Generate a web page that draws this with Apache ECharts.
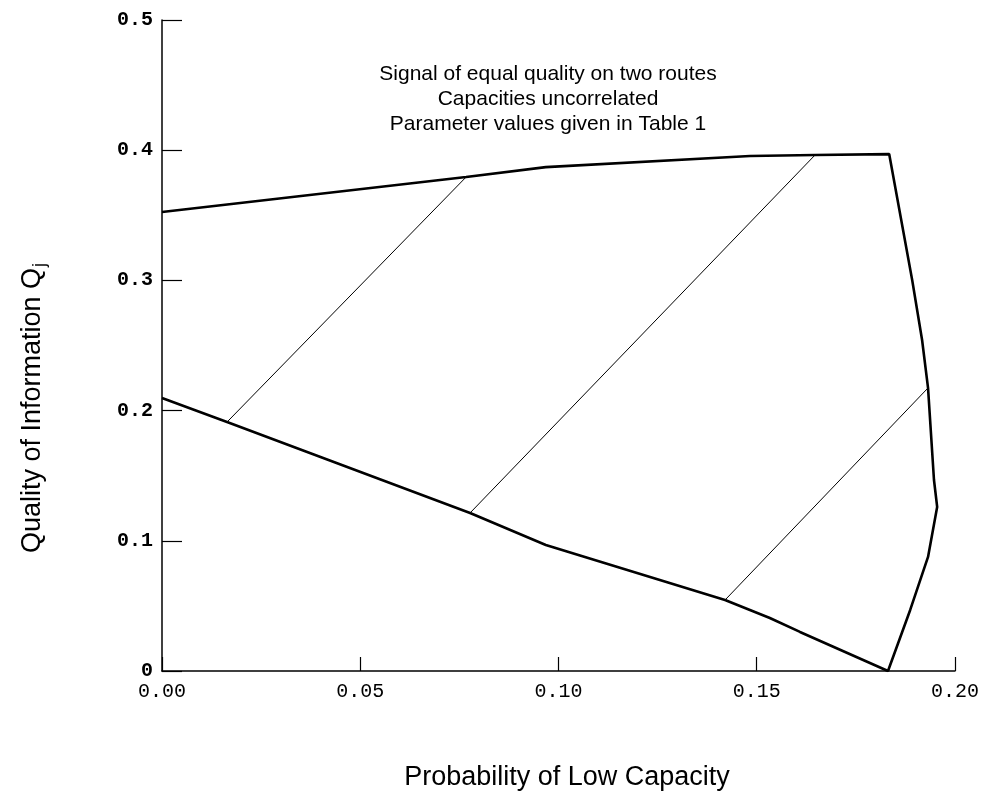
<!DOCTYPE html>
<html>
<head>
<meta charset="utf-8">
<script src="https://cdn.jsdelivr.net/npm/echarts@6/dist/echarts.min.js"></script>
<style>html,body{margin:0;padding:0;background:#fff;}#c{width:1007px;height:802px;}</style>
</head>
<body>
<div id="c"></div>
<script>
// Upper boundary (left to right)
const upperX = [0.0000, 0.0767, 0.0968, 0.1483, 0.1647, 0.1834];
const upperY = [0.3525, 0.3794, 0.3870, 0.3956, 0.3963, 0.3970];
// Right boundary (top to bottom)
const rightX = [0.1834, 0.1892, 0.1917, 0.1932, 0.1947, 0.1955, 0.1932, 0.1887, 0.1831];
const rightY = [0.3970, 0.3003, 0.2542, 0.2174, 0.1467, 0.1260, 0.0876, 0.0469, 0.0000];
// Lower boundary (left to right)
const lowerX = [0.0000, 0.0164, 0.0777, 0.0968, 0.1420, 0.1533, 0.1609, 0.1831];
const lowerY = [0.2097, 0.1912, 0.1214, 0.0968, 0.0545, 0.0407, 0.0300, 0.0000];
// Hatch lines (start on lower boundary, end on upper/right boundary)
const hatch1X = [0.0164, 0.0767], hatch1Y = [0.1912, 0.3794];
const hatch2X = [0.0777, 0.1647], hatch2Y = [0.1214, 0.3963];
const hatch3X = [0.1420, 0.1932], hatch3Y = [0.0545, 0.2174];
const xTicks = [0, 0.05, 0.10, 0.15, 0.20];
const yTicks = [0, 0.1, 0.2, 0.3, 0.4, 0.5];
const titleLines = ['Signal of equal quality on two routes', 'Capacities uncorrelated', 'Parameter values given in Table 1'];
const xName = 'Probability of Low Capacity';
const yName = 'Quality of Information Q';
const ySub = 'j';

const zip = (xs, ys) => xs.map((x, i) => [x, ys[i]]);
const outline = zip(upperX, upperY)
  .concat(zip(rightX, rightY).slice(1))
  .concat(zip(lowerX, lowerY).reverse().slice(1));

const chart = echarts.init(document.getElementById('c'), null, {renderer: 'canvas'});
const lineBase = {type: 'line', symbol: 'none', silent: true, animation: false};
chart.setOption({
  backgroundColor: '#fff',
  animation: false,
  title: {
    text: titleLines.join('\n'),
    left: 543, top: 57, textAlign: 'center',
    textStyle: {fontFamily: 'Liberation Sans', fontSize: 21, fontWeight: 'normal', color: '#000', lineHeight: 25}
  },
  graphic: [
    {type: 'text', x: 567, y: 778,
      style: {text: xName, fontFamily: 'Liberation Sans', fontSize: 27, fill: '#000', align: 'center', verticalAlign: 'middle'}},
    {type: 'text', x: 33, y: 408, rotation: Math.PI / 2,
      style: {text: yName + '{s|' + ySub + '}', fontFamily: 'Liberation Sans', fontSize: 27, fill: '#000',
        align: 'center', verticalAlign: 'middle',
        rich: {s: {fontFamily: 'Liberation Sans', fontSize: 18, fill: '#000', verticalAlign: 'bottom', padding: [14, 0, 0, 1]}}}}
  ],
  grid: {left: 162, top: 20, right: 52, bottom: 131, containLabel: false},
  xAxis: {
    type: 'value', min: 0, max: 0.2, interval: 0.05,
    axisLine: {onZero: false, lineStyle: {color: '#000', width: 1.5}},
    axisTick: {inside: true, length: 14, lineStyle: {color: '#000', width: 1.2}},
    axisLabel: {margin: 11, fontFamily: 'Liberation Mono', fontSize: 20, color: '#000',
      formatter: v => v.toFixed(2)},
    splitLine: {show: false}
  },
  yAxis: {
    type: 'value', min: 0, max: 0.5, interval: 0.1,
    axisLine: {onZero: false, lineStyle: {color: '#000', width: 1.5}},
    axisTick: {inside: true, length: 20, lineStyle: {color: '#000', width: 1.2}},
    axisLabel: {margin: 9, fontFamily: 'Liberation Mono', fontSize: 20, fontWeight: 'bold', color: '#000',
      formatter: v => (v === 0 ? '0' : v.toFixed(1))},
    splitLine: {show: false}
  },
  series: [
    Object.assign({}, lineBase, {name: 'region', data: outline, lineStyle: {color: '#000', width: 2.6}}),
    Object.assign({}, lineBase, {name: 'h1', data: zip(hatch1X, hatch1Y), lineStyle: {color: '#000', width: 1}}),
    Object.assign({}, lineBase, {name: 'h2', data: zip(hatch2X, hatch2Y), lineStyle: {color: '#000', width: 1}}),
    Object.assign({}, lineBase, {name: 'h3', data: zip(hatch3X, hatch3Y), lineStyle: {color: '#000', width: 1}})
  ]
});
</script>
</body>
</html>
